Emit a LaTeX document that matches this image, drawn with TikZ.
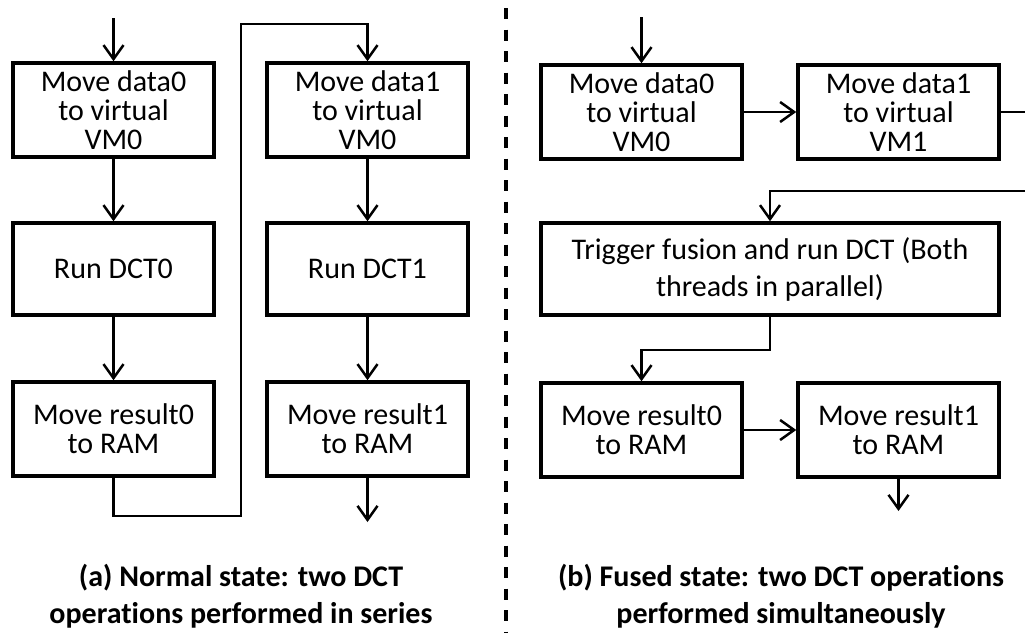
\documentclass[tikz,border=0pt]{standalone}
\usepackage{fontspec}
\setmainfont{Carlito}[Ligatures=NoCommon]
\usetikzlibrary{arrows.meta}

\tikzset{
  stepbox/.style={draw, line width=3.5pt, minimum width=201pt, minimum height=94pt,
    inner sep=0pt, align=center, font=\fontsize{30}{29}\selectfont},
  widebox/.style={stepbox, minimum width=458pt, minimum height=92pt,
    font=\fontsize{30}{37}\selectfont},
  flow/.style={line width=2.5pt, -{Straight Barb[length=14pt, width=20pt, line width=2.5pt]}},
  caption/.style={align=center, inner sep=0pt, font=\fontsize{30}{37}\selectfont\bfseries},
  divider/.style={line width=3.5pt, dash pattern=on 11pt off 10.5pt}
}

\begin{document}
\begin{tikzpicture}[x=1pt, y=-1pt]
  \path[use as bounding box] (0,0) rectangle (1025,632);
  \clip (0,0) rectangle (1025,632);

  % (a) serial execution
  \node[stepbox] (a1) at (113.5,110) {Move data0\\to virtual\\VM0};
  \node[stepbox, minimum height=92pt] (a2) at (113.5,269) {Run DCT0};
  \node[stepbox] (a3) at (113.5,429) {Move result0\\to RAM};
  \node[stepbox] (b1) at (367.5,110) {Move data1\\to virtual\\VM0};
  \node[stepbox, minimum height=92pt] (b2) at (367.5,269) {Run DCT1};
  \node[stepbox] (b3) at (367.5,429) {Move result1\\to RAM};

  \coordinate (ain) at (113.5,18);
  \coordinate (j1) at (241,516);
  \coordinate (j2) at (241,24);
  \coordinate (bout) at (367.5,522);

  \draw[flow] (ain) -- (a1.north);
  \draw[flow] (a1) -- (a2);
  \draw[flow] (a2) -- (a3);
  \draw[flow] (a3.south) |- (j1) -- (j2) -| (b1.north);
  \draw[flow] (b1) -- (b2);
  \draw[flow] (b2) -- (b3);
  \draw[flow] (b3.south) -- (bout);

  \node[caption] (capa) at (241,596) {(a) Normal state: two DCT\\operations performed in series};

  % separator
  \coordinate (dtop) at (506,8);
  \coordinate (dbot) at (506,640);
  \draw[divider] (dtop) -- (dbot);

  % (b) fused execution
  \node[stepbox] (c1) at (641.5,112) {Move data0\\to virtual\\VM0};
  \node[stepbox] (c2) at (898.5,112) {Move data1\\to virtual\\VM1};
  \node[widebox] (d) at (770,269) {Trigger fusion and run DCT (Both\\threads in parallel)};
  \node[stepbox] (e1) at (641.5,430) {Move result0\\to RAM};
  \node[stepbox] (e2) at (898.5,430) {Move result1\\to RAM};

  \coordinate (cin) at (641.5,17);
  \coordinate (r1) at (1040,112);
  \coordinate (r2) at (1040,191);
  \coordinate (m1) at (770,350);
  \coordinate (eout) at (898.5,511);

  \draw[flow] (cin) -- (c1.north);
  \draw[flow] (c1) -- (c2);
  \draw[flow] (c2.east) -- (r1) -- (r2) -| (d.north);
  \draw[flow] (d.south) -- (m1) -| (e1.north);
  \draw[flow] (e1) -- (e2);
  \draw[flow] (e2.south) -- (eout);

  \node[caption] (capb) at (781,596) {(b) Fused state: two DCT operations\\performed simultaneously};
\end{tikzpicture}
\end{document}
